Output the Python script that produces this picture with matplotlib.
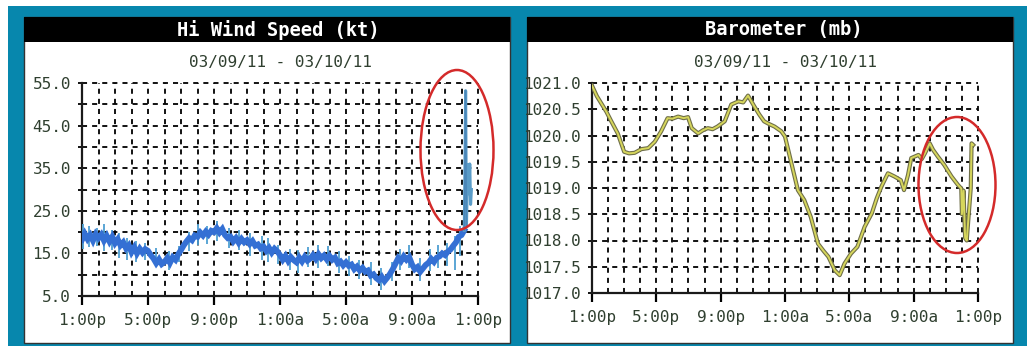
import matplotlib
matplotlib.use("Agg")
import matplotlib.pyplot as plt
from matplotlib.patches import Rectangle, Ellipse
from matplotlib.ticker import MultipleLocator, FixedLocator, FixedFormatter

W, H = 1030, 346

# ---------------- data ----------------
hour_ticks = [0, 4, 8, 12, 16, 20, 24]
hour_labels = ["1:00p", "5:00p", "9:00p", "1:00a", "5:00a", "9:00a", "1:00p"]
date_range = "03/09/11 - 03/10/11"
wind_yticks = [5, 15, 25, 35, 45, 55]
baro_yticks = [1017.0, 1017.5, 1018.0, 1018.5, 1019.0, 1019.5, 1020.0, 1020.5, 1021.0]

# Hi wind speed (kt), 10-minute samples starting at 1:00p
wind_step_h = 1 / 6
wind_vals = [
    18.2, 19.6, 18.4, 19.3, 18.0, 19.5,
    18.6, 19.4, 18.0, 19.1, 17.8, 18.9,
    17.4, 18.3, 16.9, 17.6, 16.2, 16.9,
    15.3, 16.4, 15.0, 16.1, 15.2, 16.0,
    15.6, 14.6, 13.8, 12.7, 13.6, 12.5,
    13.0, 13.9, 12.8, 14.1, 13.5, 14.8,
    15.8, 16.9, 17.8, 18.6, 18.1, 19.2,
    18.9, 19.9, 19.2, 20.1, 19.4, 20.3,
    20.0, 20.9, 19.9, 20.7, 19.3, 18.6,
    18.9, 17.8, 18.6, 17.5, 18.4, 17.6,
    18.1, 17.2, 17.9, 16.8, 17.1, 16.2,
    16.6, 15.6, 16.3, 15.2, 16.1, 15.5,
    14.6, 13.5, 14.4, 13.2, 14.1, 13.4,
    12.9, 14.0, 13.1, 14.2, 13.3, 13.8,
    14.6, 13.7, 14.8, 13.9, 14.5, 13.6,
    14.4, 13.5, 14.0, 12.7, 13.1, 12.2,
    12.9, 12.1, 12.4, 11.3, 11.9, 11.0,
    11.6, 10.7, 11.0, 9.8, 10.1, 9.2,
    8.7, 9.5, 8.5, 9.3, 10.2, 11.3,
    12.6, 13.9, 13.2, 14.3, 13.5, 14.1,
    12.4, 11.3, 11.8, 10.7, 11.5, 12.3,
    12.8, 13.7, 13.0, 14.0, 14.3, 15.0,
    14.6, 15.4, 15.9, 16.8, 17.6, 18.9,
    19.3, 20.4,
]
wind_times = [i * wind_step_h for i in range(len(wind_vals))]

# final burst
wind_tail_t = [23.17, 23.25, 23.3, 23.38, 23.45, 23.5, 23.55, 23.6]
wind_tail_v = [20.4, 53.2, 21.5, 35.8, 29.0, 36.0, 26.5, 30.0]

# gust spikes
gust_t = [0.05, 0.45, 0.9, 1.35, 1.8, 2.25, 2.7, 3.3, 3.8, 4.5, 5.3, 5.9, 6.5, 7.0,
          7.6, 8.2, 8.9, 9.5, 10.2, 10.9, 11.3, 11.9, 12.6, 13.1, 13.7, 14.3, 14.9,
          15.6, 16.2, 16.8, 17.5, 18.1, 18.8, 19.3, 19.8, 20.5, 21.1, 21.6, 22.1,
          22.6, 22.9]
gust_hi = [22.0, 21.5, 21.0, 21.8, 20.5, 19.8, 18.5, 17.8, 17.5, 16.2, 15.5, 16.8,
           20.0, 22.0, 21.5, 22.5, 21.0, 20.5, 19.8, 19.0, 18.5, 17.0, 16.0, 15.8,
           16.5, 17.0, 16.8, 15.5, 14.5, 13.5, 13.0, 11.5, 13.0, 16.0, 17.0, 14.0,
           16.0, 17.0, 17.5, 19.0, 21.5]
gust_lo = [16.0, 16.5, 16.8, 15.5, 15.8, 14.0, 13.5, 13.0, 13.5, 12.0, 11.0, 13.0,
           15.5, 17.0, 17.2, 17.8, 16.2, 15.8, 14.5, 13.5, 13.0, 12.5, 11.0, 10.5,
           11.8, 11.5, 12.0, 10.5, 9.8, 9.0, 7.5, 6.5, 8.5, 11.0, 11.5, 8.5, 10.8,
           11.5, 12.0, 11.0, 14.5]

# Barometer (mb)
baro_t = [0, 0.3, 0.6, 0.9, 1.2, 1.6, 2.0, 2.3, 2.65, 3.07, 3.5, 3.9, 4.3, 4.7, 5.0,
          5.35, 5.7, 5.97, 6.2, 6.6, 6.9, 7.2, 7.5, 7.8, 8.25, 8.66, 9.1, 9.4, 9.7,
          10.1, 10.4, 10.7, 11.0, 11.35, 11.77, 12.0, 12.4, 12.8, 13.2, 13.6, 14.05,
          14.4, 14.7, 15.1, 15.4, 15.7, 16.1, 16.5, 16.95, 17.4, 17.7, 18.0, 18.4,
          18.8, 19.2, 19.4, 19.65, 19.85, 20.3, 20.5, 20.7, 21.0, 21.2, 21.5, 21.9,
          22.35, 22.75, 22.96, 23.0, 23.1, 23.2, 23.3, 23.45, 23.55, 23.6, 23.7]
baro_v = [1020.95, 1020.75, 1020.60, 1020.45, 1020.27, 1020.04, 1019.69, 1019.66,
          1019.67, 1019.74, 1019.76, 1019.88, 1020.08, 1020.33, 1020.32, 1020.36,
          1020.33, 1020.35, 1020.14, 1020.04, 1020.10, 1020.14, 1020.12, 1020.17,
          1020.27, 1020.59, 1020.65, 1020.63, 1020.76, 1020.55, 1020.40, 1020.27,
          1020.22, 1020.17, 1020.08, 1019.98, 1019.47, 1018.96, 1018.77, 1018.45,
          1017.94, 1017.80, 1017.69, 1017.43, 1017.34, 1017.56, 1017.75, 1017.88,
          1018.26, 1018.52, 1018.80, 1019.03, 1019.28, 1019.22, 1019.15, 1018.96,
          1019.25, 1019.57, 1019.63, 1019.55, 1019.66, 1019.85, 1019.73, 1019.60,
          1019.44, 1019.22, 1019.06, 1018.99, 1018.50, 1018.95, 1018.05, 1018.00,
          1018.60, 1019.00, 1019.85, 1019.82]

# ---------------- layout ----------------
TEAL = "#0787ad"
TXT = "#2f3f2f"
MONO = "DejaVu Sans Mono"

fig = plt.figure(figsize=(W / 100, H / 100), dpi=100)
fig.patch.set_facecolor("white")


def fr(x0, y0, x1, y1):
    return [x0 / W, 1 - y1 / H, (x1 - x0) / W, (y1 - y0) / H]


def frect(x0, y0, x1, y1, **kw):
    l, b, w, h = fr(x0, y0, x1, y1)
    fig.patches.append(Rectangle((l, b), w, h, transform=fig.transFigure, **kw))


frect(8, 6, 1027, 346, facecolor=TEAL, edgecolor="none", zorder=0)

panels = [
    dict(box=(24, 17, 510, 343), ax=(82, 83, 478, 296), title="Hi Wind Speed (kt)",
         tcx=278, ell=(457, 150, 73, 160)),
    dict(box=(527, 17, 1013, 343), ax=(592, 83, 978, 293), title="Barometer (mb)",
         tcx=784, ell=(957, 185, 77, 136)),
]

axes = []
for p in panels:
    x0, y0, x1, y1 = p["box"]
    frect(x0, y0, x1, y1, facecolor="white", edgecolor="#333333", lw=1.0, zorder=1)
    frect(x0, y0, x1, 42, facecolor="black", edgecolor="none", zorder=2)
    fig.text(p["tcx"] / W, 1 - 30 / H, p["title"], color="white", fontsize=13.5,
             fontweight="bold", family=MONO, ha="center", va="center", zorder=3)
    ax0, ay0, ax1, ay1 = p["ax"]
    fig.text(((ax0 + ax1) / 2) / W, 1 - 63 / H, date_range, color=TXT, fontsize=11.5,
             family=MONO, ha="center", va="center", zorder=3)
    ax = fig.add_axes(fr(ax0, ay0, ax1, ay1))
    ax.set_facecolor("none")
    ax.set_zorder(4)
    axes.append(ax)

for p in panels:
    cx, cy, ew, eh = p["ell"]
    fig.patches.append(Ellipse((cx / W, 1 - cy / H), ew / W, eh / H,
                               transform=fig.transFigure, fill=False,
                               edgecolor="#d42a2a", lw=1.8, zorder=10))


def style_axis(ax, ylo, yhi, yticks, ymin_step, fmt):
    ax.set_xlim(0, 24)
    ax.set_ylim(ylo, yhi)
    ax.xaxis.set_major_locator(FixedLocator(hour_ticks))
    ax.xaxis.set_major_formatter(FixedFormatter(hour_labels))
    ax.xaxis.set_minor_locator(MultipleLocator(1))
    ax.yaxis.set_major_locator(FixedLocator(yticks))
    ax.yaxis.set_minor_locator(MultipleLocator(ymin_step))
    ax.yaxis.set_major_formatter(plt.FuncFormatter(lambda v, _: fmt.format(v)))
    for s in ["top", "right"]:
        ax.spines[s].set_visible(False)
    for s in ["left", "bottom"]:
        ax.spines[s].set_linewidth(1.6)
        ax.spines[s].set_color("#1a1a1a")
    ax.grid(which="both", color="black", lw=1.3, linestyle=(0, (2.8, 2.8)))
    ax.tick_params(axis="x", which="major", direction="out", length=6.5, width=1.6,
                   pad=6, labelsize=11.5, labelcolor=TXT, labelfontfamily=MONO)
    ax.tick_params(axis="x", which="minor", length=0)
    ax.tick_params(axis="y", which="both", direction="out", length=3, width=1.3,
                   pad=5, labelsize=11.5, labelcolor=TXT, labelfontfamily=MONO)
    for ln in ax.get_xgridlines() + ax.get_ygridlines():
        ln.set_clip_on(False)


style_axis(axes[0], 5, 55, wind_yticks, 5, "{:.1f}")
style_axis(axes[1], 1017, 1021, baro_yticks, 0.5, "{:.1f}")

# wind
a = axes[0]
a.vlines(gust_t, gust_lo, gust_hi, color="#4e9fd2", lw=1.3, zorder=3)
a.plot(wind_times, wind_vals, color="#3470d4", lw=4.2, zorder=4,
       solid_joinstyle="miter")
a.plot(wind_tail_t, wind_tail_v, color="#5a9cc8", lw=2.2, zorder=4)
a.plot(wind_tail_t[:3], wind_tail_v[:3], color="#4a86b8", lw=1.0, zorder=5)

# barometer
b = axes[1]
b.plot(baro_t, baro_v, color="#6f6f48", lw=3.0, zorder=4, solid_joinstyle="round")
b.plot(baro_t, baro_v, color="#d6d65c", lw=1.4, zorder=5, solid_joinstyle="round")

fig.savefig("out.png", dpi=100, facecolor="white")
